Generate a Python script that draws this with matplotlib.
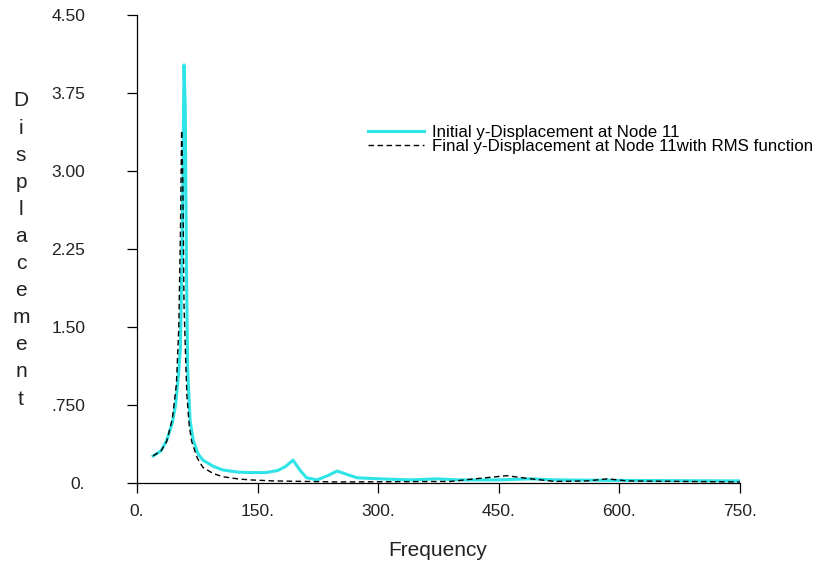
import matplotlib
matplotlib.use('Agg')
import matplotlib.pyplot as plt

# frequency response at node 11, initial design
freq_init = [20, 30, 37, 44, 48, 51, 54, 56, 58.5, 60, 61.5, 63, 66, 70, 76, 82,
             95, 107, 125, 140, 160, 175, 185, 194, 203, 211, 224, 237, 249, 262,
             274, 302, 340, 373, 400, 450, 489, 520, 600, 750]
disp_init = [0.26, 0.31, 0.41, 0.58, 0.75, 0.99, 1.3, 2.2, 4.02, 3.62, 2.1, 1.1,
             0.6, 0.41, 0.28, 0.22, 0.16, 0.125, 0.105, 0.10, 0.10, 0.12, 0.16,
             0.22, 0.12, 0.05, 0.03, 0.07, 0.115, 0.08, 0.05, 0.04, 0.03, 0.04,
             0.03, 0.03, 0.04, 0.03, 0.025, 0.02]

# final design with RMS objective
freq_final = [20, 30, 37, 44, 49, 52, 54, 55.5, 57, 58.5, 60.5, 62, 65, 68, 75, 82,
              95, 107, 125, 140, 170, 250, 390, 420, 460, 490, 520, 560, 585, 610, 750]
disp_final = [0.26, 0.31, 0.40, 0.62, 0.95, 1.5, 2.4, 3.39, 2.9, 1.7, 1.2, 0.85,
              0.55, 0.40, 0.24, 0.15, 0.09, 0.06, 0.04, 0.03, 0.02, 0.01, 0.015,
              0.04, 0.07, 0.04, 0.015, 0.02, 0.04, 0.02, 0.01]

xticks = [0, 150, 300, 450, 600, 750]
xticklabels = ['0.', '150.', '300.', '450.', '600.', '750.']
yticks = [0, 0.75, 1.5, 2.25, 3.0, 3.75, 4.5]
yticklabels = ['0.', '.750', '1.50', '2.25', '3.00', '3.75', '4.50']

W, H = 836, 567
fig = plt.figure(figsize=(W / 100, H / 100), dpi=100)
ax = fig.add_axes([137 / W, 1 - 483 / H, (740 - 137) / W, (483 - 15) / H])

ax.plot(freq_init, disp_init, color='#2ee4e6', lw=2.2,
        label='Initial y-Displacement at Node 11')
ax.plot(freq_final, disp_final, color='black', lw=1.0, dashes=(4, 2.5),
        label='Final y-Displacement at Node 11with RMS function')

ax.set_xlim(0, 750)
ax.set_ylim(0, 4.5)
for s in ['top', 'right']:
    ax.spines[s].set_visible(False)
for s in ['left', 'bottom']:
    ax.spines[s].set_linewidth(0.9)

sans = ['Liberation Sans', 'DejaVu Sans']
ax.set_xticks(xticks)
ax.set_xticklabels(xticklabels, family=sans, fontsize=12.5, color='#222222')
ax.set_yticks(yticks)
ax.set_yticklabels(yticklabels, family=sans, fontsize=12.5, color='#222222')
ax.tick_params(axis='both', direction='out', length=7.2, width=0.9)
ax.tick_params(axis='y', pad=30)
ax.tick_params(axis='x', pad=8)

fig.text(438 / W, 1 - 550 / H, 'Frequency', family=sans,
         fontsize=15, ha='center', va='center', color='#222222')
# vertical axis title, one letter per line
fig.text(21 / W, 1 - 250 / H, '\n'.join('Displacement'), family=sans,
         fontsize=15, ha='center', va='center', linespacing=1.54, color='#222222')

ax.legend(loc='upper left', bbox_to_anchor=(368 / W, 1 - 125 / H),
          bbox_transform=fig.transFigure, frameon=False, borderpad=0,
          borderaxespad=0, handlelength=3.3, handletextpad=0.5,
          labelspacing=-0.05, prop={'family': sans, 'size': 12.2})

fig.savefig('out.png', dpi=100)
